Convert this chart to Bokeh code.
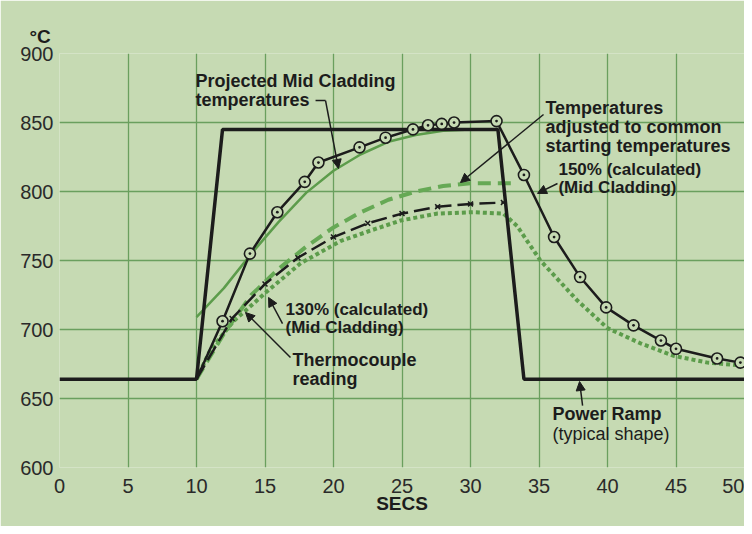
from bokeh.plotting import figure
from bokeh.models import Label, Arrow, NormalHead, FixedTicker
from bokeh.embed import file_html
from bokeh.resources import INLINE

# ---- data ----
x_ticks = [0, 5, 10, 15, 20, 25, 30, 35, 40, 45, 50]
y_ticks = [600, 650, 700, 750, 800, 850, 900]

ramp_t = [0, 10, 11.9, 32.0, 33.9, 50]
ramp_T = [664, 664, 845, 845, 664, 664]

calc150_t = [10, 11.9, 13.9, 15.9, 17.9, 18.9, 21.9, 23.8, 25.8, 26.9, 27.9, 28.8,
             31.9, 33.9, 36.1, 38.0, 39.9, 41.9, 43.9, 45.0, 48.0, 49.7]
calc150_T = [664, 706, 755, 785, 807, 821, 832, 839, 845, 848, 849, 850,
             851, 812, 767, 738, 716, 703, 692, 686, 679, 676]

proj_t = [10, 12, 14, 16, 18, 20, 22, 24, 26, 28, 30, 32]
proj_T = [709, 730, 755, 778, 799, 815, 827, 836, 841, 844, 845, 845]

adj_t = [10, 12, 14, 16, 18, 20, 22, 24, 26, 28, 30, 32, 33]
adj_T = [664, 697, 725, 744, 760, 774, 785, 794, 800, 804, 806, 806, 806]

calc130_t = [10, 12.6, 15, 17.4, 20, 22.5, 25, 27.6, 30, 32.4]
calc130_T = [664, 708, 733, 752, 767, 777, 784, 789, 791, 792]

thermo_t = [10, 11, 12.7, 15.2, 17.6, 20.5, 22.5, 24.9, 27.6, 30.2, 32.4, 33.4,
            35.1, 37.8, 40, 42.4, 44.8, 47.3, 49.7]
thermo_T = [664, 685, 706, 728, 748, 764, 771, 779, 784, 785, 784, 775,
            750, 721, 701, 690, 681, 676, 674]

BG = "#c6dab3"
GRID = "#6a9f5e"
INK = "#1c1c1c"
GREEN = "#5c9c4b"
GREEN_D = "#66a955"
FONT = "Liberation Sans"

p = figure(width=744, height=526, x_range=(0, 50), y_range=(600, 900),
           output_backend="svg", toolbar_location=None,
           min_border_left=59, min_border_right=0, min_border_top=53,
           min_border_bottom=59)
p.background_fill_color = BG
p.border_fill_color = BG
p.outline_line_color = None

p.title.text = "°C"
p.title.align = "left"
p.title.offset = -30
p.title.standoff = 13
p.title.text_font = FONT
p.title.text_font_size = "19px"
p.title.text_font_style = "bold"
p.title.text_color = INK

for ax in (p.xaxis[0], p.yaxis[0]):
    ax.axis_line_color = None
    ax.major_tick_line_color = None
    ax.minor_tick_line_color = None
    ax.major_tick_out = 0
    ax.major_tick_in = 0
    ax.minor_tick_out = 0
    ax.major_label_text_font = FONT
    ax.major_label_text_font_size = "20px"
    ax.major_label_text_color = "#2a2a2a"
p.xaxis.ticker = FixedTicker(ticks=x_ticks)
p.yaxis.ticker = FixedTicker(ticks=y_ticks)
p.xaxis.major_label_standoff = 11
p.yaxis.major_label_standoff = 6
p.xaxis.axis_label = "SECS"
p.xaxis.axis_label_text_font = FONT
p.xaxis.axis_label_text_font_style = "bold"
p.xaxis.axis_label_text_font_size = "19px"
p.xaxis.axis_label_text_color = INK
p.xaxis.axis_label_standoff = -3

p.xgrid.ticker = FixedTicker(ticks=x_ticks)
p.ygrid.ticker = FixedTicker(ticks=y_ticks)
for g in (p.xgrid[0], p.ygrid[0]):
    g.grid_line_color = GRID
    g.grid_line_width = 1.3

# curves
p.line(thermo_t, thermo_T, line_color=GREEN, line_width=4, line_dash="4 3")
p.line(adj_t, adj_T, line_color=GREEN_D, line_width=4, line_dash="13 7")
p.line(proj_t, proj_T, line_color=GREEN, line_width=2.5)
p.line(calc130_t, calc130_T, line_color=INK, line_width=2.5, line_dash="16 6")
p.scatter(calc130_t[1:], calc130_T[1:], marker="x", size=7, line_color=INK, line_width=1.5)
p.line(ramp_t, ramp_T, line_color=INK, line_width=3.5)
p.line(calc150_t, calc150_T, line_color=INK, line_width=2.5)
p.scatter(calc150_t[1:], calc150_T[1:], marker="circle_dot", size=11,
          fill_color=BG, line_color=INK, line_width=1.6)

# annotations
def lab(x, y, text, size="18px", style="bold"):
    p.add_layout(Label(x=x, y=y, text=text, text_font=FONT, text_font_size=size,
                       text_font_style=style, text_color=INK, text_baseline="top",
                       text_align="left", text_line_height=0.95))

lab(9.93, 887, "Projected Mid Cladding\ntemperatures")
lab(35.47, 868, "Temperatures\nadjusted to common\nstarting temperatures")
lab(36.42, 822.5, "150% (calculated)\n(Mid Cladding)", size="17px")
lab(16.5, 721.7, "130% (calculated)\n(Mid Cladding)", size="17px")
lab(17.0, 684.8, "Thermocouple\nreading")
lab(35.99, 645.7, "Power Ramp")
lab(35.99, 631.5, "(typical shape)", style="normal")

def arrow(x0, y0, x1, y1, head=True):
    h = NormalHead(size=9, fill_color=INK, line_color=INK, line_width=1) if head else None
    p.add_layout(Arrow(x_start=x0, y_start=y0, x_end=x1, y_end=y1, end=h,
                       line_color=INK, line_width=1.5))

arrow(18.69, 865.9, 19.42, 865.9, head=False)
arrow(19.42, 865.9, 20.36, 816.7)
arrow(35.33, 855.8, 29.27, 806.5)
arrow(36.35, 805.8, 34.89, 798.6)
arrow(16.28, 704.3, 15.26, 723.2)
arrow(16.86, 679.7, 13.58, 712.3)
arrow(38.18, 644.9, 37.96, 662.3)

open("out.html", "w").write(file_html(p, INLINE))
